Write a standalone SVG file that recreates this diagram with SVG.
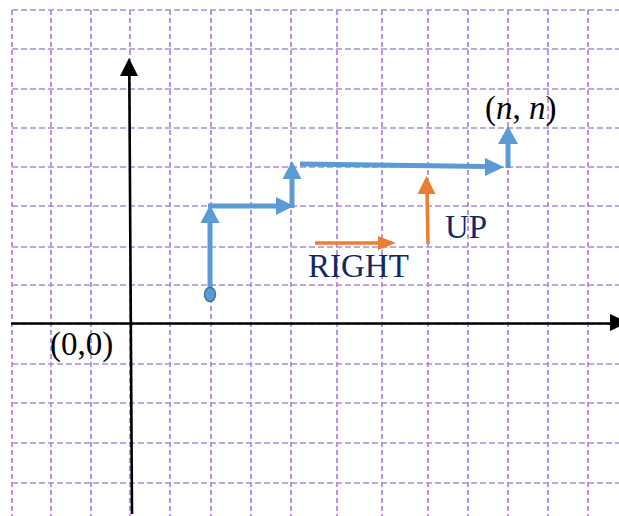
<svg xmlns="http://www.w3.org/2000/svg" width="619" height="516" viewBox="0 0 619 516">
<style>
.gv{stroke:#8a52c8;stroke-width:1.2;stroke-dasharray:5 3;fill:none}
.gh{stroke:#b08ad9;stroke-width:1.6;stroke-dasharray:6 3;fill:none}
.ax{stroke:#000;stroke-width:2.6;fill:none}
.bl{stroke:#5b9bd5;stroke-width:5;fill:none}
.or{stroke:#ed7d31;stroke-width:3.5;fill:none}
.lbl{font-family:"Liberation Serif","Times New Roman",serif;font-size:33px}
.nv{fill:#112a66}
</style>
<rect width="619" height="516" fill="#fff"/>
<g id="grid">
<path class="gv" d="M12 10V516M51 10V516M91 10V516M130 10V516M170 10V516M211 10V516M251 10V516M291 10V516M337 10V516M382 10V516M428 10V516M468 10V516M508 10V516M548 10V516M588 10V516"/>
<path class="gh" d="M12 10H619M12 49H619M12 89H619M12 128H619M12 167H619M12 206H619M12 247H619M12 285H619M12 324H619M12 364H619M12 403H619M12 443H619M12 483H619"/>
</g>
<g id="axes">
<path class="ax" d="M132 514L129.3 74"/>
<polygon points="129,58 138,76 120,76" fill="#000"/>
<path class="ax" d="M11 323.5H612"/>
<polygon points="628,322.5 610,314 610,331" fill="#000"/>
</g>
<g id="connectors">
<path class="bl" d="M210 294V222"/>
<polygon points="210,205 219.5,223 200.5,223" fill="#5b9bd5"/>
<path class="bl" d="M208 206H277"/>
<polygon points="294,206 276,197 276,215" fill="#5b9bd5"/>
<path class="bl" d="M292 208V177"/>
<polygon points="292,161 301.5,179 282.5,179" fill="#5b9bd5"/>
<path class="bl" d="M300 164L486 166.5"/>
<polygon points="504,167 485,158 485,176" fill="#5b9bd5"/>
<path class="bl" d="M508 168V142"/>
<polygon points="508,126 518,144 498,144" fill="#5b9bd5"/>
<ellipse cx="210" cy="294.5" rx="5.5" ry="7" fill="#5b9bd5" stroke="#41719c" stroke-width="1.5"/>
<path class="or" d="M315 243H380"/>
<polygon points="396,243 378,236 378,250" fill="#ed7d31"/>
<path class="or" d="M428 244L427 192"/>
<polygon points="426.5,176 435.5,194 417.5,194" fill="#ed7d31"/>
</g>
<g id="labels">
<text class="lbl" x="50" y="355">(0,0)</text>
<text class="lbl" x="485" y="119">(<tspan font-style="italic">n</tspan>, <tspan font-style="italic">n</tspan>)</text>
<text class="lbl nv" x="445" y="238">UP</text>
<text class="lbl nv" x="308" y="277">RIGHT</text>
</g>
</svg>
